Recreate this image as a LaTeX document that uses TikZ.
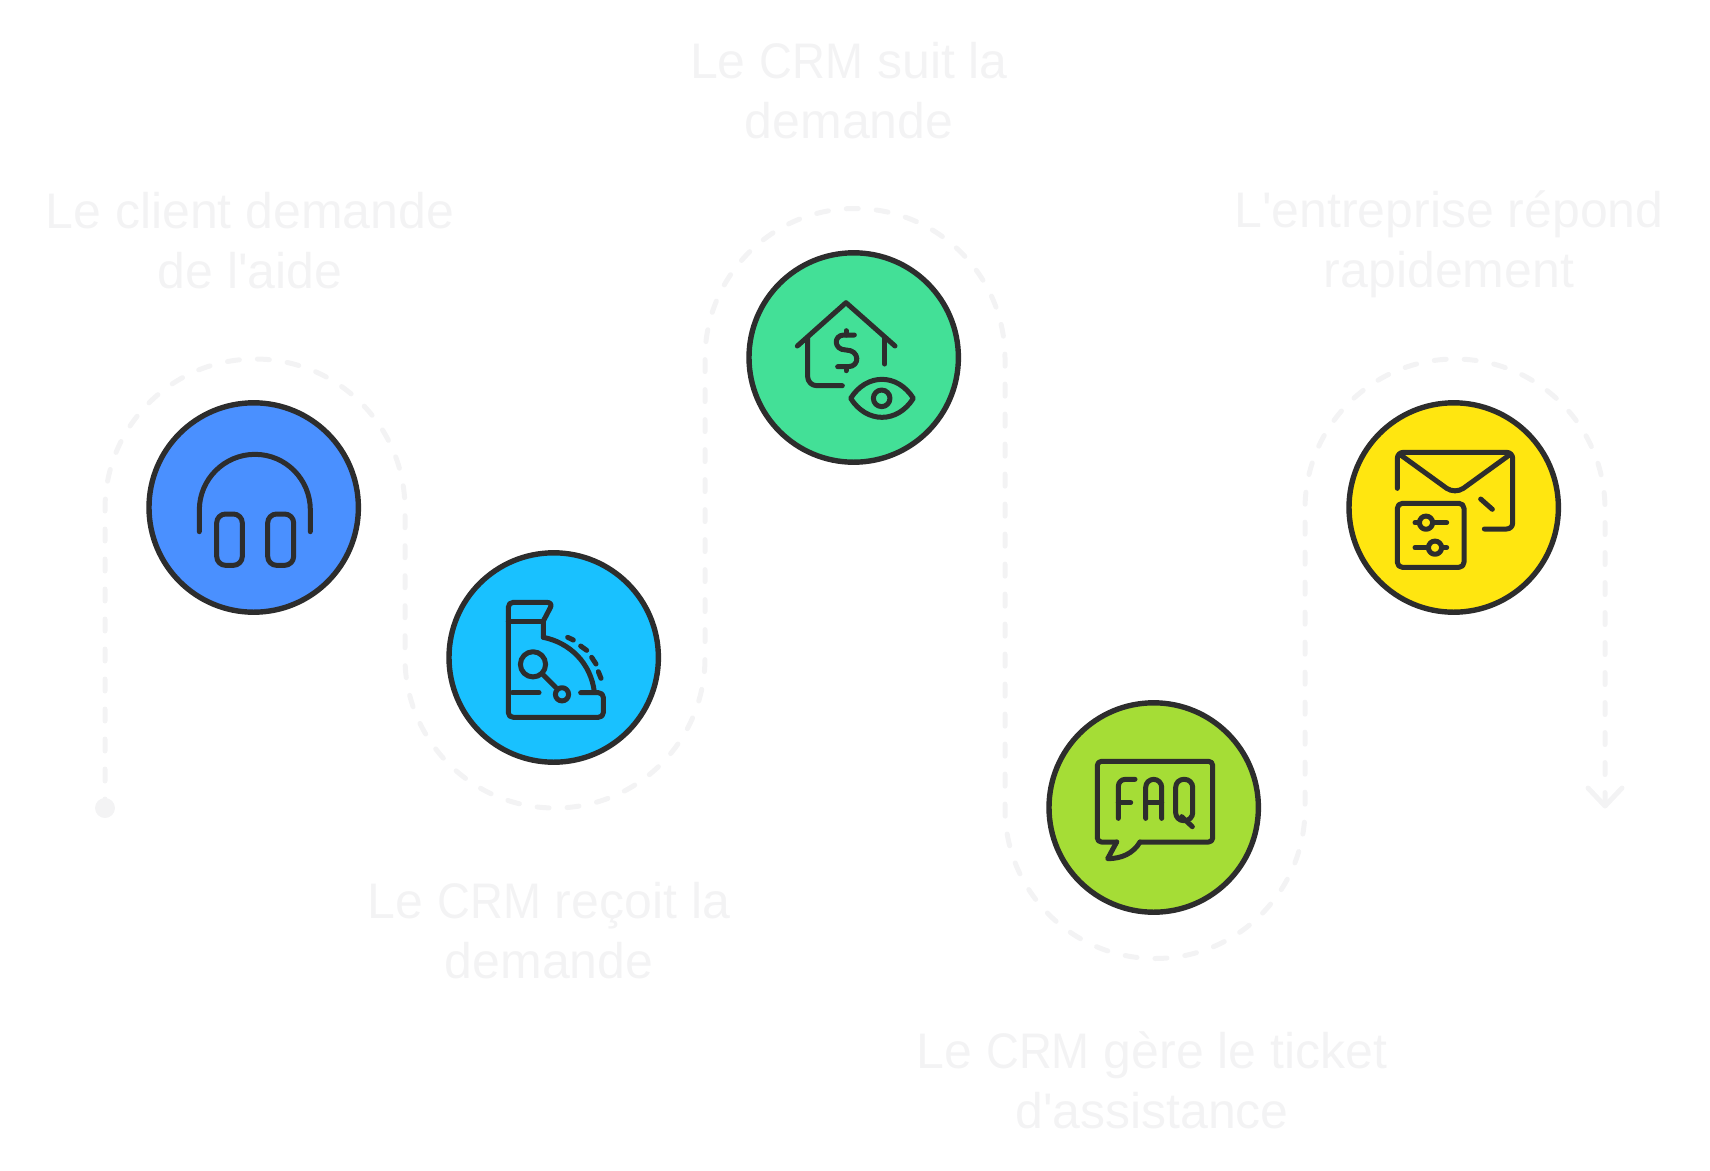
\documentclass[tikz,border=0pt]{standalone}
\usepackage{fontspec}
\newfontfamily\labelfont{Liberation Sans}
\usetikzlibrary{calc}
\definecolor{ink}{HTML}{2D2D2D}
\definecolor{ghost}{HTML}{F3F3F4}
\definecolor{cblue}{HTML}{4A90FF}
\definecolor{ccyan}{HTML}{19C1FF}
\definecolor{cgreen}{HTML}{43E097}
\definecolor{clime}{HTML}{A5DD36}
\definecolor{cyellow}{HTML}{FFE610}
\newcommand{\crmword}{{\addfontfeature{FakeStretch=0.91}CRM}}
\tikzset{
  stepdisc/.style={circle,draw=ink,line width=5.4pt,minimum size=209.4pt,inner sep=0pt},
  label text/.style={text=ghost,align=center,inner sep=0pt,font=\labelfont\fontsize{50}{60}\selectfont},
  glyph/.style={draw=ink,line width=5pt,line cap=round,line join=round},
  route/.style={draw=ghost,line width=5pt,line cap=round,dash pattern=on 12pt off 18pt,dash phase=3pt},
  zoomframe/.style={x=0.33333pt,y=-0.33333pt}
}
\begin{document}
\begin{tikzpicture}[x=1pt,y=-1pt]
\useasboundingbox (0,0) rectangle (1710,1170);
% connector
\node[circle,fill=ghost,minimum size=20pt,inner sep=0pt] (start) at (105,808) {};
\coordinate (a1) at (105,509);
\coordinate (a2) at (405,658);
\coordinate (a3) at (705,358.5);
\coordinate (a4) at (1005,808.5);
\coordinate (a5) at (1305,509);
\coordinate (stop) at (1605,806);
\draw[route] (start.center) -- (a1) arc[start angle=180,end angle=0,radius=150pt]
  -- (a2) arc[start angle=180,end angle=360,radius=150pt]
  -- (a3) arc[start angle=180,end angle=0,radius=150pt]
  -- (a4) arc[start angle=180,end angle=360,radius=150pt]
  -- (a5) arc[start angle=180,end angle=0,radius=150pt]
  -- (stop);
\draw[draw=ghost,line width=5pt,line cap=round,line join=round] ($(stop)+(-17,-18)$) -- (stop) -- ($(stop)+(17,-18)$);
% discs
\node[stepdisc,fill=cblue] (c1) at (253.7,507.5) {};
\node[stepdisc,fill=ccyan] (c2) at (553.7,657.5) {};
\node[stepdisc,fill=cgreen] (c3) at (853.7,357.5) {};
\node[stepdisc,fill=clime] (c4) at (1153.7,807.5) {};
\node[stepdisc,fill=cyellow] (c5) at (1453.7,507.5) {};
% labels
\node[label text] (t1) at (250,240.5) {Le client demande\\de l'aide};
\node[label text] (t2) at (549,930.5) {Le \crmword{} reçoit la\\demande};
\node[label text] (t3) at (849,90.5) {Le \crmword{} suit la\\demande};
\node[label text] (t4) at (1152,1080) {Le \crmword{} gère le ticket\\d'assistance};
\node[label text] (t5) at (1449,244.5) {L'entreprise répond\\rapidement};
% headphones
\begin{scope}[shift={(130,390)},zoomframe]
\draw[glyph] (208,425) -- (208,360) .. controls (208,268) and (283,193) .. (375,193) .. controls (467,193) and (541,268) .. (541,360) -- (541,425);
\draw[glyph,rounded corners=9pt] (260,372) rectangle (337,526);
\draw[glyph,rounded corners=9pt] (413,372) rectangle (491,526);
\end{scope}
% cash register
\begin{scope}[shift={(435,540)},zoomframe]
\draw[glyph] (325,292) -- (325,243) -- (346,203) .. controls (352,193) and (345,187) .. (335,187) -- (235,187) .. controls (226,187) and (220,193) .. (220,202) -- (220,518) .. controls (220,526) and (226,532) .. (235,532) -- (490,532) .. controls (499,532) and (505,526) .. (505,518) -- (505,472) .. controls (505,464) and (499,458) .. (490,458) -- (437,458);
\draw[glyph] (325,292) .. controls (405,308) and (468,370) .. (478,456);
\draw[glyph] (220,245) -- (325,245);
\draw[glyph] (232,458) -- (312,458);
\draw[glyph] (294,373) circle[radius=12.6pt];
\draw[glyph] (325,405) -- (362,442);
\draw[glyph] (381,463) circle[radius=6.6pt];
\draw[glyph] (398,292) -- (415,300);
\draw[glyph] (437,318) -- (455,331);
\draw[glyph] (470,352) -- (483,372);
\draw[glyph] (490,395) -- (498,415);
\end{scope}
% house and eye
\begin{scope}[shift={(735,240)},zoomframe]
\draw[glyph] (187,318) -- (333,188) -- (480,318);
\draw[glyph,rounded corners=9pt] (218,292) -- (218,437) -- (322,437);
\draw[glyph] (449,292) -- (449,372);
\draw[glyph] (358,285) -- (327,285) .. controls (295,285) and (295,330) .. (333,330) .. controls (375,330) and (375,380) .. (340,380) -- (308,380);
\draw[glyph] (333,272) -- (333,285);
\draw[glyph] (333,380) -- (333,392);
\draw[glyph] (347,475) .. controls (395,399) and (487,399) .. (535,475) .. controls (487,551) and (395,551) .. (347,475) -- cycle;
\draw[glyph] (440,475) circle[radius=8.3pt];
\end{scope}
% FAQ bubble
\begin{scope}[shift={(1035,690)},zoomframe]
\draw[glyph,rounded corners=4pt] (245,456) -- (187,456) -- (187,214) -- (533,214) -- (533,456) -- (315,456);
\draw[glyph] (245,456) -- (218,506) .. controls (260,506) and (295,490) .. (315,456);
\draw[glyph,rounded corners=7pt] (250,385) -- (250,268) -- (300,268);
\draw[glyph] (250,338) -- (287,338);
\draw[glyph,rounded corners=8pt] (332,385) -- (332,268) -- (380,268) -- (380,385);
\draw[glyph] (332,338) -- (380,338);
\draw[glyph,rounded corners=8pt] (422,268) rectangle (473,392);
\draw[glyph] (440,380) -- (472,410);
\end{scope}
% envelope and sliders
\begin{scope}[shift={(1335,390)},zoomframe]
\draw[glyph,rounded corners=6pt] (187,295) -- (187,187) -- (533,187) -- (533,417) -- (448,417);
\draw[glyph] (197,195) -- (335,295) .. controls (350,305) and (370,305) .. (385,295) -- (523,195);
\draw[glyph] (437,327) -- (472,358);
\draw[glyph,rounded corners=5pt] (187,340) rectangle (387,532);
\draw[glyph] (240,398) -- (335,398);
\draw[glyph,fill=cyellow] (273,398) circle[radius=6.6pt];
\draw[glyph] (240,473) -- (335,473);
\draw[glyph,fill=cyellow] (300,473) circle[radius=6.6pt];
\end{scope}
\end{tikzpicture}
\end{document}
